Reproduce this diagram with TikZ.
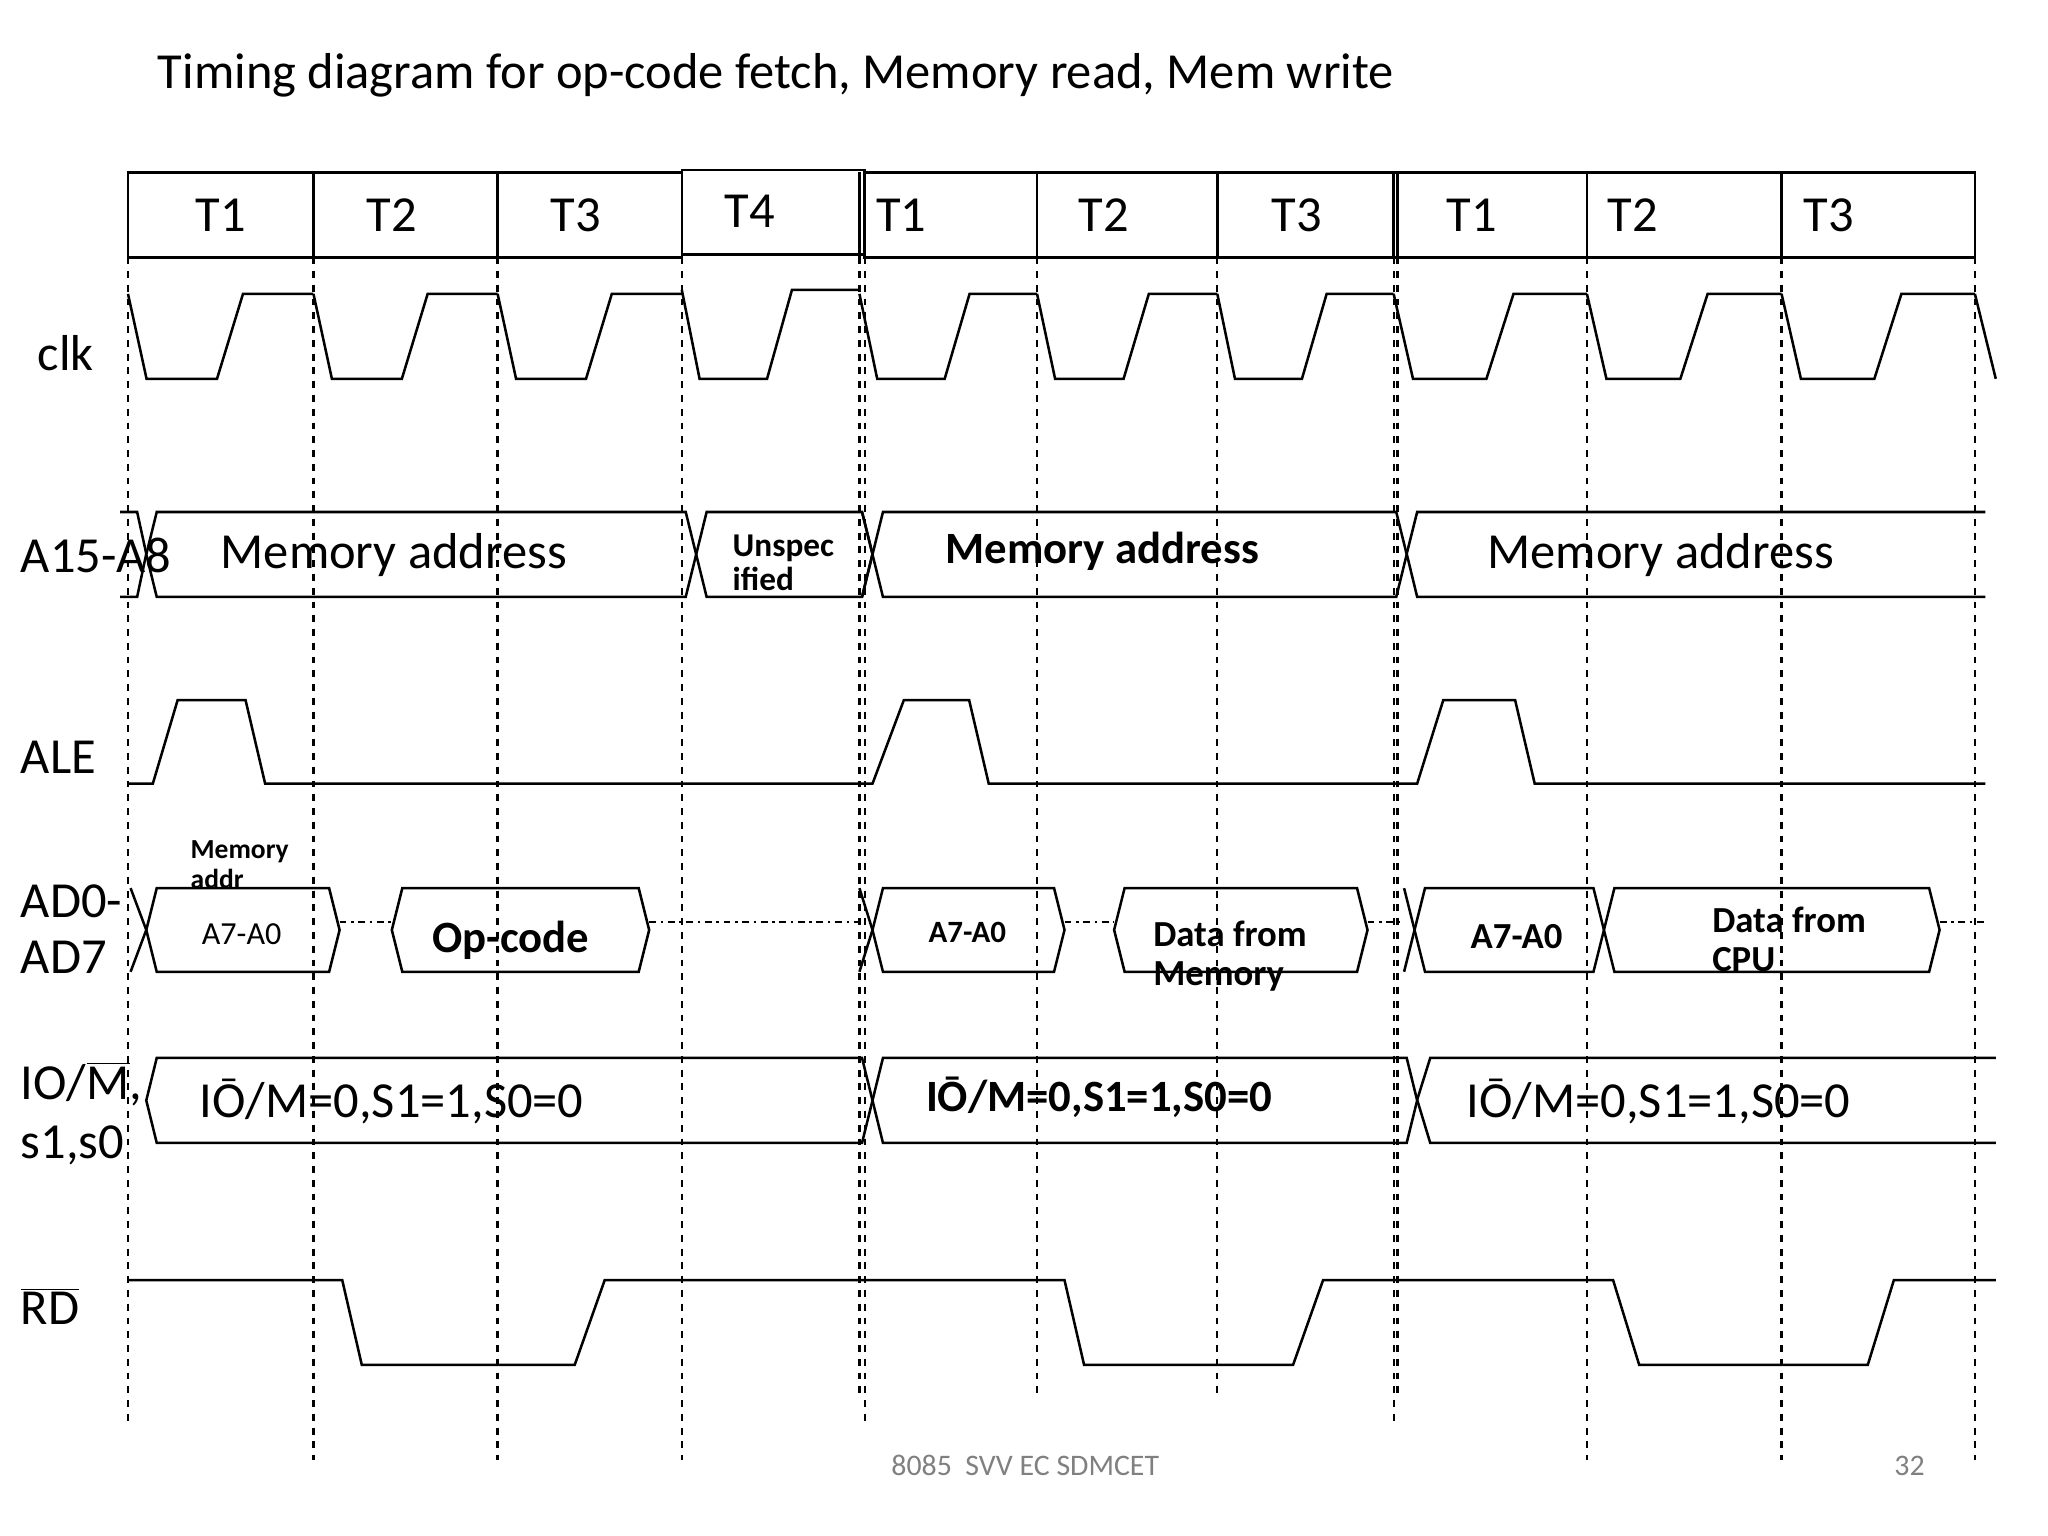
\documentclass[tikz,border=0pt]{standalone}
\usepackage{fontspec}
\setmainfont{Carlito}
\begin{document}
\begin{tikzpicture}[x=0.02cm,y=-0.02cm,line width=1.1pt,
  dl/.style={dashed,line width=1pt},
  big/.style={font=\fontsize{22}{24}\selectfont,anchor=west,inner sep=0},
  bb/.style={font=\bfseries\fontsize{19.5}{21}\selectfont,anchor=west,inner sep=0},
  sm/.style={font=\bfseries\fontsize{14.5}{15}\selectfont,anchor=west,inner sep=0,align=left}]
\useasboundingbox (0,0) rectangle (1568,1176);
\newcommand\myhex[4]{\draw ({#1},{(#3+#4)/2})--({#1+8},{#3})--({#2-8},{#3})--({#2},{(#3+#4)/2})--({#2-8},{#4})--({#1+8},{#4})--cycle;}
\newcommand\myclk[3]{\draw ({#1},{#3})--({#1+0.1*(#2-#1)},290)--({#1+0.48*(#2-#1)},290)--({#1+0.62*(#2-#1)},{#3})--({#2},{#3});}
% title
\node[big] (title) at (120,58) {Timing diagram for op-code fetch, Memory read, Mem write};
% header
\draw (98,132) rectangle (522,197);
\foreach \x in {240,381} \draw (\x,132)--(\x,197);
\draw (522,130) rectangle (662,195);
\draw (658,132)--(658,197);
\draw (662,132) rectangle (1512,197);
\foreach \x in {794,932,1067,1070,1215,1364} \draw (\x,132)--(\x,197);
\foreach \x/\t in {169/T1,300/T2,441/T3,690/T1,845/T2,993/T3,1127/T1,1250/T2,1400/T3}
  \node[big,anchor=center] at (\x,165) {\t};
\node[big,anchor=center] at (574,162) {T4};
% dashed verticals
\foreach \x/\e in {98/1092,240/1118,381/1118,522/1118,658/1068,662/1092,794/1068,932/1068,1067/1092,1070/1068,1215/1118,1364/1118,1512/1118}
  \draw[dl] (\x,197)--(\x,\e);
% clock
\myclk{98}{240}{225}\myclk{240}{381}{225}\myclk{381}{522}{225}\myclk{522}{658}{222}
\myclk{658}{794}{225}\myclk{794}{932}{225}\myclk{932}{1067}{225}
\myclk{1067}{1215}{225}\myclk{1215}{1364}{225}\myclk{1364}{1512}{225}
\draw (1512,225)--(1528,290);
% labels
\node[big] at (28,270) {clk};
\node[big] at (15,425) {A15-A8};
\node[big] at (15,580) {ALE};
\node[big] at (15,690) {AD0-};
\node[big] at (15,733) {AD7};
\node[big] at (15,830) {IO/$\overline{\hbox{M}}$,};
\node[big] at (15,877) {s1,s0};
\node[big] at (15,1000) {$\overline{\hbox{RD}}$};
% A15-A8
\draw (92,392)--(105,392)--(112,424)--(105,457)--(92,457);
\myhex{112}{533}{392}{457}
\myhex{533}{668}{392}{457}
\draw (660,392)--(668,424)--(660,457);
\myhex{668}{1077}{392}{457}
\draw (1520,392)--(1085,392)--(1077,424)--(1085,457)--(1520,457);
\node[big] at (168,425) {Memory address};
\node[sm] at (560,431) {Unspec\\ified};
\node[bb] at (723,422) {Memory address};
\node[big] at (1138,425) {Memory address};
% ALE
\draw (98,600)--(117,600)--(136,536)--(188,536)--(203,600)--(668,600)--(692,536)--(742,536)--(757,600)--(1085,600)--(1105,536)--(1160,536)--(1175,600)--(1520,600);
% AD0-AD7
\draw (100,680)--(112,712)--(100,744);
\myhex{112}{260}{680}{744}
\draw[dash dot] (260,706)--(300,706);
\myhex{300}{497}{680}{744}
\draw[dash dot] (497,706)--(658,706);
\draw (658,680)--(668,712)--(658,744);
\myhex{668}{815}{680}{744}
\draw[dash dot] (815,706)--(853,706);
\myhex{853}{1047}{680}{744}
\draw[dash dot] (1047,706)--(1075,706);
\draw (1075,680)--(1083,712)--(1075,744);
\myhex{1083}{1228}{680}{744}
\myhex{1228}{1485}{680}{744}
\draw[dash dot] (1485,706)--(1520,706);
\node[sm,font=\bfseries\fontsize{12}{13}\selectfont] at (145,662) {Memory\\addr};
\node[anchor=center,font=\fontsize{14}{15}\selectfont] at (185,715) {A7-A0};
\node[bb] at (330,720) {Op-code};
\node[sm,font=\bfseries\fontsize{13.5}{14}\selectfont] at (710,714) {A7-A0};
\node[sm,font=\bfseries\fontsize{16}{17}\selectfont] at (882,732) {Data from\\Memory};
\node[sm,font=\bfseries\fontsize{16}{17}\selectfont] at (1125,717) {A7-A0};
\node[sm,font=\bfseries\fontsize{16}{17}\selectfont] at (1310,719) {Data from\\CPU};
% IO/M
\myhex{112}{668}{810}{875}
\myhex{668}{1085}{810}{875}
\draw (1528,810)--(1095,810)--(1085,842)--(1095,875)--(1528,875);
\node[big] at (152,843) {I\={O}/M=0,S1=1,S0=0};
\node[bb] at (708,840) {I\={O}/M=0,S1=1,S0=0};
\node[big] at (1122,843) {I\={O}/M=0,S1=1,S0=0};
% RD
\draw (98,980)--(262,980)--(277,1045)--(440,1045)--(463,980)--(815,980)--(830,1045)--(990,1045)--(1013,980)--(1235,980)--(1255,1045)--(1430,1045)--(1450,980)--(1528,980);
% footer
\node[anchor=center,text=gray,font=\fontsize{13}{14}\selectfont] at (785,1122) {8085\ \ SVV EC SDMCET};
\node[anchor=center,text=gray,font=\fontsize{13}{14}\selectfont] at (1462,1122) {32};
\end{tikzpicture}
\end{document}
